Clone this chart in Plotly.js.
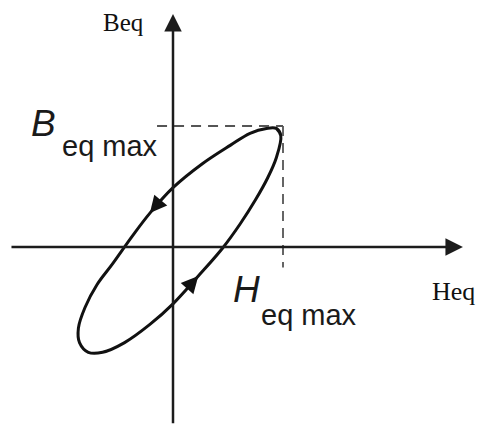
<!DOCTYPE html>
<html>
<head>
<meta charset="utf-8">
<script src="https://cdn.plot.ly/plotly-3.0.1.min.js"></script>
<style>
  html, body { margin: 0; padding: 0; background: #ffffff; }
  #chart { width: 478px; height: 424px; }
</style>
</head>
<body>
<div id="chart"></div>
<script>
// Hysteresis loop B(H), in units of the peak values (Heq max = 1, Beq max = 1).
// Points run counter-clockwise, starting at the upper-right tip.
const loopH = [0.98, 0.94, 0.85, 0.70, 0.52, 0.27, 0.00, -0.21, -0.37, -0.55, -0.69, -0.80, -0.86,
               -0.85, -0.77, -0.64, -0.44, -0.21, 0.00, 0.23, 0.45, 0.61, 0.75, 0.86, 0.94];
const loopB = [0.92, 0.98, 0.98, 0.94, 0.84, 0.69, 0.49, 0.28, 0.09, -0.14, -0.31, -0.50, -0.67,
               -0.79, -0.87, -0.87, -0.79, -0.64, -0.47, -0.24, -0.01, 0.19, 0.39, 0.57, 0.74];

// Peak values marked by the dashed guides
const hEqMax = 1.0;
const bEqMax = 1.0;

// Loop points that carry the direction arrows
const arrowAt = [7, 19];

// Axis labels
const xAxisLabel = 'Heq';
const yAxisLabel = 'Beq';

// Plot geometry
const W = 478, H = 424;
const xRange = [-1.5727, 2.7727];
const yRange = [-1.4628, 2.0413];
const pxPerX = W / (xRange[1] - xRange[0]);
const pxPerY = H / (yRange[1] - yRange[0]);

// Wrap the loop so the spline closes smoothly
const n = loopH.length;
const wrapIdx = [n - 2, n - 1].concat(loopH.map((_, i) => i), [0, 1]);
const loopTrace = {
  x: wrapIdx.map(i => loopH[i]),
  y: wrapIdx.map(i => loopB[i]),
  mode: 'lines',
  line: { color: '#111111', width: 3, shape: 'spline', smoothing: 1 },
  hoverinfo: 'skip'
};

const ink = '#1c1c1c';
const annotations = [];

// H axis and B axis with arrow tips
annotations.push({
  x: 2.636, y: 0, ax: -1.482, ay: 0, xref: 'x', yref: 'y', axref: 'x', ayref: 'y',
  text: '', showarrow: true, arrowhead: 2, arrowsize: 1.4, arrowwidth: 2.5, arrowcolor: ink
});
annotations.push({
  x: 0, y: 1.926, ax: 0, ay: -1.47, xref: 'x', yref: 'y', axref: 'x', ayref: 'y',
  text: '', showarrow: true, arrowhead: 2, arrowsize: 1.4, arrowwidth: 2.5, arrowcolor: ink
});

// Direction arrows on the loop, pointing along the travel direction
arrowAt.forEach(k => {
  const prev = (k - 1 + n) % n, next = (k + 1) % n;
  const dx = (loopH[next] - loopH[prev]) * pxPerX;
  const dy = -(loopB[next] - loopB[prev]) * pxPerY;
  const len = Math.hypot(dx, dy);
  const tail = 12;
  annotations.push({
    x: loopH[k], y: loopB[k], xref: 'x', yref: 'y',
    ax: -dx / len * tail, ay: -dy / len * tail,
    text: '', showarrow: true, arrowhead: 2, arrowsize: 1.3, arrowwidth: 2.6, arrowcolor: '#111111'
  });
});

// Text labels (paper coordinates, figure has no margins)
function px(xp) { return xp / W; }
function py(yp) { return 1 - yp / H; }
const serif = 'Liberation Serif, Times New Roman, serif';
const sans = 'Liberation Sans, Arial, Helvetica, sans-serif';
annotations.push({ x: px(101), y: py(23), xref: 'paper', yref: 'paper', xanchor: 'left', yanchor: 'middle',
  text: yAxisLabel, showarrow: false, font: { family: serif, size: 25, color: '#111111' } });
annotations.push({ x: px(430), y: py(291), xref: 'paper', yref: 'paper', xanchor: 'left', yanchor: 'middle',
  text: xAxisLabel, showarrow: false, font: { family: serif, size: 26, color: '#111111' } });
annotations.push({ x: px(29), y: py(123), xref: 'paper', yref: 'paper', xanchor: 'left', yanchor: 'middle',
  text: '<i>B</i>', showarrow: false, font: { family: sans, size: 37, color: '#1a1a1a' } });
annotations.push({ x: px(60), y: py(146), xref: 'paper', yref: 'paper', xanchor: 'left', yanchor: 'middle',
  text: 'eq max', showarrow: false, font: { family: sans, size: 29, color: '#1a1a1a' } });
annotations.push({ x: px(231), y: py(289), xref: 'paper', yref: 'paper', xanchor: 'left', yanchor: 'middle',
  text: '<i>H</i>', showarrow: false, font: { family: sans, size: 37, color: '#1a1a1a' } });
annotations.push({ x: px(259), y: py(315), xref: 'paper', yref: 'paper', xanchor: 'left', yanchor: 'middle',
  text: 'eq max', showarrow: false, font: { family: sans, size: 29, color: '#1a1a1a' } });

// Dashed guides from the loop tip to the axes
const dashStyle = { color: '#555555', width: 1.8, dash: '10px,7px' };
const shapes = [
  { type: 'line', xref: 'x', yref: 'y', x0: -0.145, x1: hEqMax, y0: bEqMax, y1: bEqMax, line: dashStyle },
  { type: 'line', xref: 'x', yref: 'y', x0: hEqMax, x1: hEqMax, y0: bEqMax, y1: -0.17, line: dashStyle }
];

const layout = {
  width: W, height: H,
  margin: { l: 0, r: 0, t: 0, b: 0, pad: 0 },
  paper_bgcolor: '#ffffff', plot_bgcolor: '#ffffff',
  showlegend: false,
  xaxis: { range: xRange, visible: false, fixedrange: true },
  yaxis: { range: yRange, visible: false, fixedrange: true },
  shapes: shapes,
  annotations: annotations
};

Plotly.newPlot('chart', [loopTrace], layout, { staticPlot: true, displayModeBar: false });
</script>
</body>
</html>
